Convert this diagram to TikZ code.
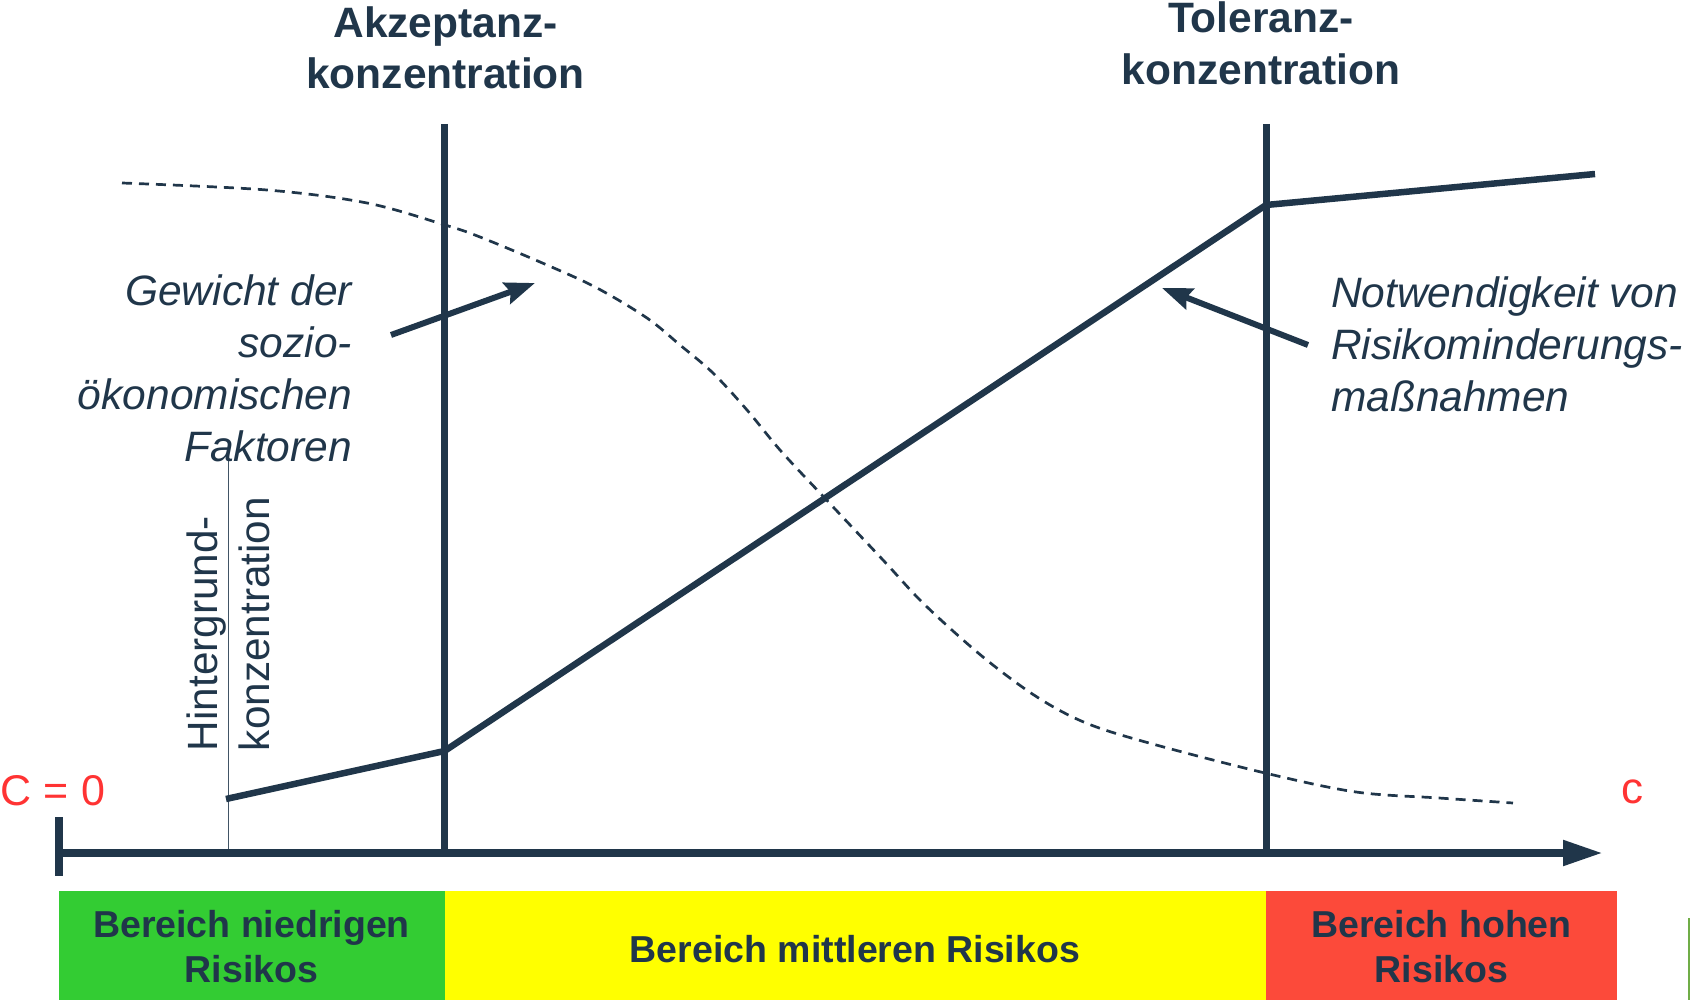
\documentclass[tikz,border=0pt]{standalone}
\usepackage{fontspec}
\setmainfont{Liberation Sans}
\usetikzlibrary{arrows.meta}
\definecolor{navy}{RGB}{32,54,74}
\definecolor{lowgreen}{RGB}{51,204,51}
\definecolor{midyellow}{RGB}{255,255,0}
\definecolor{highred}{RGB}{252,74,58}
\definecolor{labelred}{RGB}{255,51,51}
\definecolor{edgegreen}{RGB}{112,173,71}
\begin{document}
\begin{tikzpicture}[x=1pt,y=-1pt,
  every node/.style={inner sep=0pt, outer sep=0pt, text=navy},
  titletext/.style={font=\fontsize{42.5}{51.5}\selectfont\bfseries, align=center},
  notetext/.style={font=\fontsize{42.5}{52}\selectfont\itshape},
  vertext/.style={font=\fontsize{42.3}{52}\selectfont, align=left, rotate=90},
  zonetext/.style={font=\fontsize{37.5}{45}\selectfont\bfseries, align=center},
  redtext/.style={font=\fontsize{43}{50}\selectfont, text=labelred},
  limitline/.style={draw=navy, line width=7pt},
  curve/.style={draw=navy, line width=6.5pt, line join=round},
  dashcurve/.style={draw=navy, line width=2.7pt, dash pattern=on 10pt off 7pt},
  axisline/.style={draw=navy, line width=8pt, -{Triangle[length=40pt, width=24pt]}},
  pointer/.style={draw=navy, line width=6pt, -{Stealth[length=30pt, width=22pt, inset=4pt]}},
  thinline/.style={draw=navy!85, line width=1.3pt}
]
\useasboundingbox (0,0) rectangle (1690,1000);

% zones
\fill[lowgreen] (59,891) rectangle (444.5,1000);
\fill[midyellow] (444.5,891) rectangle (1266,1000);
\fill[highred] (1266,891) rectangle (1617,1000);
\node[zonetext] (zlow) at (251.5,946.5) {Bereich niedrigen\\Risikos};
\node[zonetext] (zmid) at (855,949.5) {Bereich mittleren Risikos};
\node[zonetext] (zhigh) at (1441.5,946.5) {Bereich hohen\\Risikos};
\draw[edgegreen, line width=1.5pt] (1689,918) -- (1689,1000);

% coordinates
\coordinate (A0) at (444.5,124); \coordinate (A1) at (444.5,853);
\coordinate (T0) at (1266,124);  \coordinate (T1) at (1266,853);
\coordinate (ax0) at (59,853);   \coordinate (ax1) at (1603,853);
\coordinate (tk0) at (59,817);   \coordinate (tk1) at (59,876);
\coordinate (h0) at (228.5,461); \coordinate (h1) at (228.5,853);
\coordinate (p0) at (226,799);   \coordinate (p1) at (444.5,751);
\coordinate (p2) at (1266,205);  \coordinate (p3) at (1595,174);
\coordinate (g0) at (391,335);   \coordinate (g1) at (535,283);
\coordinate (n0) at (1308,345);  \coordinate (n1) at (1162,288);

% dashed curve
\draw[dashcurve] plot[smooth, tension=0.55] coordinates {
 (122,183) (267,190) (367,203) (445,225) (480,237) (547,265) (597,288)
 (647,318) (680,345) (713,373) (747,410) (780,450) (820,493) (883,560)
 (925,605) (983,657) (1037,697) (1086,723) (1149,743) (1265,773)
 (1356,792) (1439,798) (1513,803)};

% background concentration line
\draw[thinline] (h0) -- (h1);

% solid curve
\draw[curve] (p0) -- (p1) -- (p2) -- (p3);

% limit lines
\draw[limitline] (A0) -- (A1);
\draw[limitline] (T0) -- (T1);

% axis
\draw[axisline] (ax0) -- (ax1);
\draw[navy, line width=7.5pt] (tk0) -- (tk1);

% pointers
\draw[pointer] (g0) -- (g1);
\draw[pointer] (n0) -- (n1);

% titles
\node[titletext] (tacc) at (445.5,47.8) {Akzeptanz-\\konzentration};
\node[titletext] (ttol) at (1261,43.3) {Toleranz-\\konzentration};

% notes
\node[notetext, align=right, anchor=east] (nweight) at (352,368) {Gewicht der\\sozio-\\ökonomischen\\Faktoren};
\node[notetext, align=left, anchor=west] (nneed) at (1331,344) {Notwendigkeit von\\Risikominderungs-\\maßnahmen};

% rotated label
\node[vertext, anchor=south west] (hbg) at (270,751) {Hintergrund-\\konzentration};

% red labels
\node[redtext, anchor=base west] (c0) at (1,805) {C = 0};
\node[redtext, font=\fontsize{44}{50}\selectfont, anchor=base west] (cax) at (1621,803) {c};
\end{tikzpicture}
\end{document}
